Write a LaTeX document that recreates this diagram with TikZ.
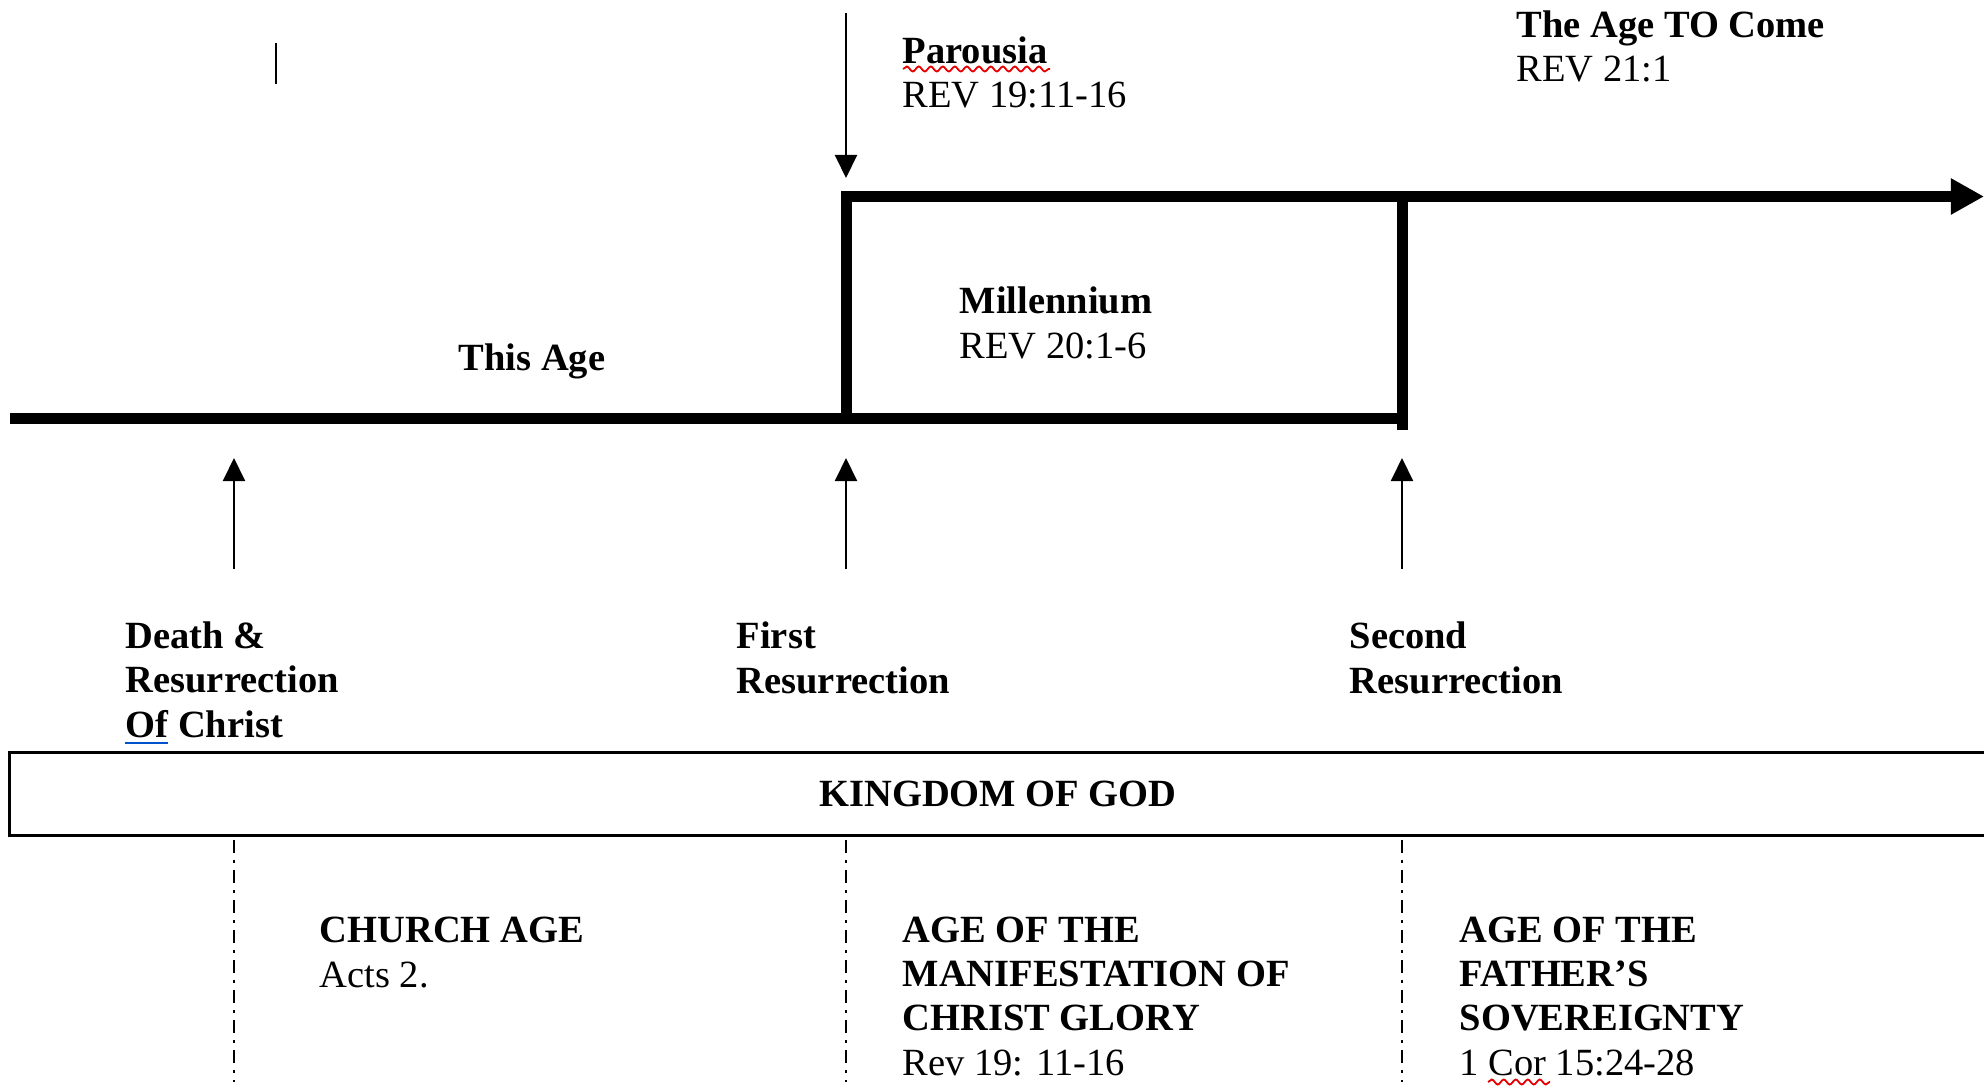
\documentclass[tikz,border=0pt]{standalone}
\usepackage{fontspec}
\setmainfont{Liberation Serif}
\usetikzlibrary{positioning,arrows.meta,decorations.pathmorphing}

\begin{document}
\begin{tikzpicture}[
x=0.01cm,
y=-0.01cm,
txt/.style={
  anchor=base west,
  inner sep=0pt,
  align=left,
  font=\fontsize{10.95pt}{12.52pt}\selectfont
  },
bold/.style={
  txt,
  font=\fontsize{10.95pt}{12.52pt}\selectfont\bfseries
  },
timeline/.style={
  line width=0.11cm,
  line join=miter
  },
marker/.style={
  line width=0.02cm,
  -{Triangle[length=0.23cm,width=0.22cm]}
  },
divider/.style={
  line width=0.026cm,
  dash pattern=on 0.13cm off 0.07cm on 0.03cm off 0.07cm
  },
kingdombox/.style={
  draw,
  line width=0.035cm,
  minimum width=19.76cm,
  minimum height=0.83cm,
  inner sep=0pt,
  font=\fontsize{10.95pt}{12.52pt}\selectfont\bfseries
  },
spell/.style={
  draw=red!90!black,
  line width=0.018cm,
  decorate,
  decoration={snake,amplitude=0.025cm,segment length=0.12cm}
  }
]
\useasboundingbox (0,0) rectangle (1984,1088);

\coordinate (start) at (10,418.5);
\coordinate (rise) at (846,418.5);
\coordinate (riseTop) at (846,196.5);
\coordinate (fall) at (1402,196.5);
\coordinate (fallEnd) at (1402,430);
\coordinate (fallBase) at (1402,418.5);
\coordinate (future) at (1984,196.5);
\coordinate (comeFrom) at (846,13);
\coordinate (comeTo) at (846,178);
\coordinate (caretTop) at (276,43);
\coordinate (caretEnd) at (276,84);

\draw[timeline] (start) -- (fallBase);
\draw[timeline,-{Triangle[length=0.33cm,width=0.34cm]}] (rise) -- (riseTop) -- (future);
\draw[timeline] (fall) -- (fallEnd);
\draw[marker] (comeFrom) -- (comeTo);
\draw[line width=0.015cm] (caretTop) -- (caretEnd);

\node[txt] (parousia) at (902,108) {\textbf{Parousia}\\REV 19:11-16};
\node[txt] (ageToCome) at (1516,82) {\textbf{The Age TO Come}\\REV 21:1};
\node[txt] (millennium) at (959,358) {\textbf{Millennium}\\REV 20:1-6};
\node[bold] (thisAge) at (458,370) {This Age};

\foreach \px [count=\i] in {234,846,1402}
{
  \coordinate (foot\i) at (\px,569);
  \coordinate (head\i) at (\px,458);
  \draw[marker] (foot\i) -- (head\i);
  \coordinate (divTop\i) at (\px,840);
  \coordinate (divEnd\i) at (\px,1082);
  \draw[divider] (divTop\i) -- (divEnd\i);
}

\node[bold] (death) at (125,737) {Death \&\\Resurrection\\Of Christ};
\node[bold] (firstRes) at (736,693) {First\\Resurrection};
\node[bold] (secondRes) at (1349,693) {Second\\Resurrection};

\node[kingdombox] (kingdom) at (998,794) {KINGDOM OF GOD};

\node[txt] (church) at (319,987) {\textbf{CHURCH AGE}\\Acts 2.};
\node[txt] (manifest) at (902,1075) {\textbf{AGE OF THE}\\\textbf{MANIFESTATION OF}\\\textbf{CHRIST GLORY}\\Rev 19: 11-16};
\node[txt] (sovereign) at (1459,1075) {\textbf{AGE OF THE}\\\textbf{FATHER’S}\\\textbf{SOVEREIGNTY}\\1 Cor 15:24-28};

\coordinate (ofFrom) at (125,743);
\coordinate (ofTo) at (168,743);
\draw[draw=blue!60!cyan!80!black,line width=0.015cm] (ofFrom) -- (ofTo);
\coordinate (parFrom) at (903,69);
\coordinate (parTo) at (1050,69);
\draw[spell] (parFrom) -- (parTo);
\coordinate (corFrom) at (1488,1082);
\coordinate (corTo) at (1550,1082);
\draw[spell] (corFrom) -- (corTo);
\end{tikzpicture}
\end{document}
